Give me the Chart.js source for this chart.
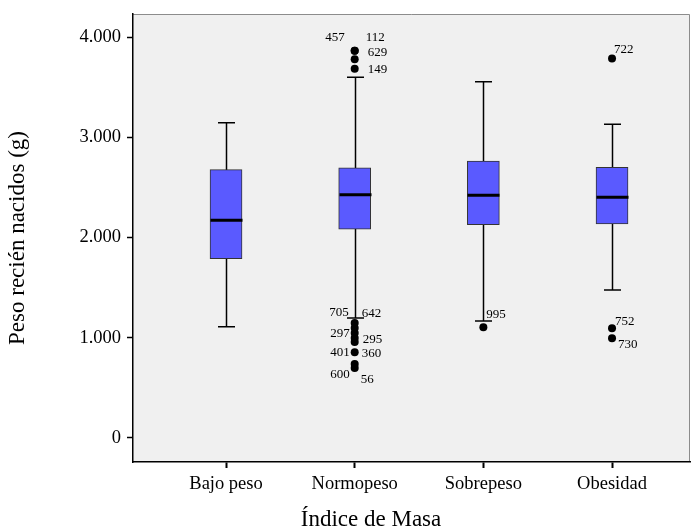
<!DOCTYPE html>
<html>
<head>
<meta charset="utf-8">
<script src="https://cdn.jsdelivr.net/npm/chart.js@4/dist/chart.umd.min.js"></script>
<style>
  html, body { margin: 0; padding: 0; background: #fff; }
</style>
</head>
<body>
<canvas id="boxChart" width="694" height="530"></canvas>
<script>
"use strict"

// data
const categories = ["Bajo peso", "Normopeso", "Sobrepeso", "Obesidad"];
const whiskerLow = [1110, 1197, 1167, 1476];
const quartile1 = [1788, 2082, 2128, 2135];
const median = [2171, 2427, 2421, 2401];
const quartile3 = [2677, 2696, 2763, 2700];
const whiskerHigh = [3145, 3598, 3554, 3129];

const outlierCategory = [2, 2, 2, 2, 2, 2, 2, 2, 2, 2, 2, 2, 3, 4, 4, 4];
const outlierValue = [3864, 3864, 3778, 3684, 1147, 1097, 1047, 998, 958, 855, 738, 698, 1104, 3787, 1094, 994];
const outlierCase = ["457", "112", "629", "149", "705", "642", "297", "295", "360", "401", "600", "56", "995", "722", "752", "730"];

const yTickValues = [0, 1000, 2000, 3000, 4000];
const yTickLabels = ["0", "1.000", "2.000", "3.000", "4.000"];

const yTitle = "Peso recién nacidos (g)";
const xTitle = "Índice de Masa";

// label placement next to the dots (dx, dy, align)
const labelPlace = {
  "457": [-10, -13, "right"], "112": [11, -13, "left"], "629": [13, -7, "left"], "149": [13, 1, "left"],
  "705": [-6, -10, "right"], "642": [7, -14, "left"], "297": [-5, 1, "right"], "295": [8, 2, "left"],
  "360": [7, 12, "left"], "401": [-5, 0, "right"], "600": [-5, 11, "right"], "56": [6, 12, "left"],
  "995": [3, -13, "left"], "722": [2, -9, "left"], "752": [3, -7, "left"], "730": [6, 6, "left"]
};

const serif = '"Liberation Serif", "Times New Roman", serif';

const boxPlugin = {
  id: 'boxParts',
  beforeDraw(chart) {
    const {ctx, chartArea: a} = chart;
    ctx.save();
    ctx.fillStyle = '#f0f0f0';
    ctx.fillRect(a.left, a.top, a.right - a.left, a.bottom - a.top);
    ctx.strokeStyle = '#8c8c8c';
    ctx.lineWidth = 1;
    ctx.beginPath();
    ctx.moveTo(a.left, a.top + 0.5);
    ctx.lineTo(a.right - 0.5, a.top + 0.5);
    ctx.lineTo(a.right - 0.5, a.bottom);
    ctx.stroke();
    ctx.restore();
  },
  beforeDatasetsDraw(chart) {
    const {ctx, scales: {x, y}} = chart;
    ctx.save();
    ctx.strokeStyle = '#000';
    ctx.lineWidth = 1.5;
    categories.forEach((c, i) => {
      const px = Math.round(x.getPixelForValue(i + 1)) + 0.5;
      const lo = y.getPixelForValue(whiskerLow[i]);
      const hi = y.getPixelForValue(whiskerHigh[i]);
      ctx.beginPath();
      ctx.moveTo(px, lo);
      ctx.lineTo(px, hi);
      ctx.moveTo(px - 8.5, lo);
      ctx.lineTo(px + 8.5, lo);
      ctx.moveTo(px - 8.5, hi);
      ctx.lineTo(px + 8.5, hi);
      ctx.stroke();
    });
    ctx.restore();
  },
  afterDatasetsDraw(chart) {
    const {ctx, scales: {x, y}, chartArea: a} = chart;
    ctx.save();
    ctx.strokeStyle = '#000';
    ctx.lineWidth = 3;
    categories.forEach((c, i) => {
      const px = Math.round(x.getPixelForValue(i + 1)) + 0.5;
      const py = y.getPixelForValue(median[i]);
      ctx.beginPath();
      ctx.moveTo(px - 16, py);
      ctx.lineTo(px + 16, py);
      ctx.stroke();
    });

    ctx.fillStyle = '#000';
    ctx.font = '13px ' + serif;
    ctx.textBaseline = 'middle';
    outlierCase.forEach((id, i) => {
      const p = labelPlace[id] || [4, -8, 'left'];
      ctx.textAlign = p[2];
      ctx.fillText(id, x.getPixelForValue(outlierCategory[i]) + p[0], y.getPixelForValue(outlierValue[i]) + p[1]);
    });

    // axis titles
    ctx.textAlign = 'center';
    ctx.font = '23px ' + serif;
    ctx.fillText(xTitle, a.left + 238, 520);
    ctx.translate(18, (a.top + a.bottom) / 2);
    ctx.rotate(-Math.PI / 2);
    ctx.fillText(yTitle, 0, 0);
    ctx.restore();
  }
};

const ctx = document.getElementById('boxChart').getContext('2d');
const chart = new Chart(ctx, {
  type: 'bar',
  data: {
    datasets: [{
      type: 'bar',
      data: categories.map((c, i) => ({x: i + 1, y: [quartile1[i], quartile3[i]]})),
      backgroundColor: '#5a5aff',
      borderColor: '#333',
      borderWidth: 1,
      borderSkipped: false,
      barThickness: 32
    }, {
      type: 'scatter',
      data: outlierValue.map((v, i) => ({x: outlierCategory[i], y: v})),
      backgroundColor: '#000',
      borderWidth: 0,
      pointRadius: 4
    }]
  },
  options: {
    responsive: false,
    animation: false,
    layout: {padding: {top: 14, right: 0, left: 0, bottom: 0}},
    plugins: {legend: {display: false}, tooltip: {enabled: false}},
    scales: {
      x: {
        type: 'linear',
        offset: false,
        min: 0.277,
        max: 4.606,
        afterBuildTicks: scale => { scale.ticks = categories.map((c, i) => ({value: i + 1})); },
        afterFit: scale => { scale.height = 68; scale.paddingLeft = 0; scale.paddingRight = 0; },
        grid: {offset: false, drawOnChartArea: false, drawTicks: true, tickLength: 6, tickWidth: 2, tickColor: '#000'},
        border: {display: true, color: '#000', width: 1.5},
        ticks: {
          autoSkip: false, maxRotation: 0, padding: 5, color: '#000',
          font: {family: serif, size: 18.5},
          callback: v => categories[v - 1]
        }
      },
      y: {
        min: -240,
        max: 4230,
        afterBuildTicks: scale => { scale.ticks = yTickValues.map(v => ({value: v})); },
        afterFit: scale => { scale.width = 133; scale.paddingTop = 0; scale.paddingBottom = 0; },
        grid: {drawOnChartArea: false, drawTicks: true, tickLength: 6, tickWidth: 1.5, tickColor: '#000'},
        border: {display: true, color: '#000', width: 1.5},
        ticks: {
          padding: 6, color: '#000',
          font: {family: serif, size: 18.5},
          callback: (v, i) => yTickLabels[i]
        }
      }
    }
  },
  plugins: [boxPlugin]
});
</script>
</body>
</html>
